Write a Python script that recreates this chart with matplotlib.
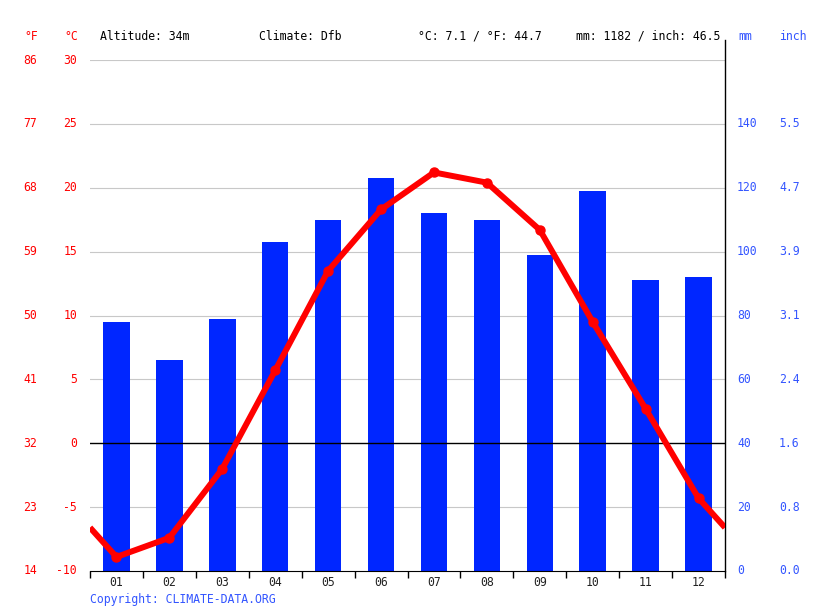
import numpy as np
import matplotlib
matplotlib.use("Agg")
import matplotlib.pyplot as plt
import matplotlib.transforms as mtransforms


# data
months = ["01", "02", "03", "04", "05", "06", "07", "08", "09", "10", "11", "12"]
precip_mm = [78, 66, 79, 103, 110, 123, 112, 110, 99, 119, 91, 92]
temp_c = [-8.9, -7.4, -2.0, 5.7, 13.5, 18.3, 21.2, 20.4, 16.7, 9.5, 2.7, -4.3]

c_ticks = [-10, -5, 0, 5, 10, 15, 20, 25, 30]
f_labels = ["14", "23", "32", "41", "50", "59", "68", "77", "86"]
mm_ticks = [0, 20, 40, 60, 80, 100, 120, 140]
inch_labels = ["0.0", "0.8", "1.6", "2.4", "3.1", "3.9", "4.7", "5.5"]

header = ["Altitude: 34m", "Climate: Dfb", "°C: 7.1 / °F: 44.7", "mm: 1182 / inch: 46.5"]

RED = "#ff0000"
BLUE = "#0026ff"
LBLUE = "#3355ff"
FONT = "DejaVu Sans Mono"
FS = 8.3

W, H = 815, 611
fig = plt.figure(figsize=(W / 100, H / 100), dpi=100)

# plot area in pixels: x 90..725, y 60..571
ax = fig.add_axes([90 / W, (H - 571) / H, 635 / W, 511 / H])
ax.set_xlim(0, 12)
ax.set_ylim(-10, 30)
for s in ["left", "top", "right"]:
    ax.spines[s].set_visible(False)
ax.spines["bottom"].set_color("black")
ax.set_yticks([])
ax.set_xticks(np.arange(0, 13))
ax.set_xticklabels([])
ax.tick_params(axis="x", direction="out", length=5, width=1, color="black")

x = np.arange(12) + 0.5

# precipitation on mm scale: mm = 4 * (C + 10)
mm_to_c = lambda v: np.asarray(v) / 4.0 - 10
bar_h = np.asarray(precip_mm) / 4.0
ax.bar(x, bar_h, bottom=-10, width=0.5, color=BLUE, zorder=2)

# grid
for c in c_ticks[1:]:
    if c == 0:
        ax.axhline(0, color="black", lw=1, zorder=3)
    else:
        ax.axhline(c, color="#c8c8c8", lw=0.8, zorder=1)

# right spine, extends above plot
ax.plot([12, 12], [-10, 31.6], color="black", lw=1, clip_on=False, zorder=4)

# temperature line, wrapped ends
edge = (temp_c[0] + temp_c[-1]) / 2
lx = np.concatenate([[0], x, [12]])
ly = np.concatenate([[edge], temp_c, [edge]])
ax.plot(lx, ly, color=RED, lw=4.3, zorder=5, solid_capstyle="butt")
ax.plot(x, temp_c, "o", color=RED, ms=6.5, zorder=6)

# axis labels as text
trans = mtransforms.blended_transform_factory(fig.transFigure, ax.transData)
for c, f in zip(c_ticks, f_labels):
    fig.text(37 / W, 0, f, transform=trans, ha="right", va="center",
             color=RED, fontsize=FS, family=FONT).set_y(c)
    fig.text(77 / W, 0, str(c), transform=trans, ha="right", va="center",
             color=RED, fontsize=FS, family=FONT).set_y(c)
for m, i in zip(mm_ticks, inch_labels):
    cy = float(mm_to_c(m))
    fig.text(737 / W, cy, str(m), transform=trans, ha="left", va="center",
             color=LBLUE, fontsize=FS, family=FONT)
    fig.text(779 / W, cy, i, transform=trans, ha="left", va="center",
             color=LBLUE, fontsize=FS, family=FONT)

# month labels
for xi, m in zip(x, months):
    ax.text(xi, 1, m, transform=ax.get_xaxis_transform(), ha="center",
            va="center", fontsize=FS, family=FONT, color="#222222")
    ax.texts[-1].set_y(-(582 - 571) / 511)

# header row
hy = 1 - 36 / H
fig.text(24 / W, hy, "°F", color=RED, fontsize=FS, family=FONT, va="center")
fig.text(64 / W, hy, "°C", color=RED, fontsize=FS, family=FONT, va="center")
fig.text(738 / W, hy, "mm", color=LBLUE, fontsize=FS, family=FONT, va="center")
fig.text(779 / W, hy, "inch", color=LBLUE, fontsize=FS, family=FONT, va="center")
for px, t in zip([100, 259, 418, 576], header):
    fig.text(px / W, hy, t, color="black", fontsize=FS, family=FONT, va="center")

fig.text(90 / W, 1 - 599 / H, "Copyright: CLIMATE-DATA.ORG", color=LBLUE,
         fontsize=FS, family=FONT, va="center")

fig.savefig("out.png", dpi=100, facecolor="white")
